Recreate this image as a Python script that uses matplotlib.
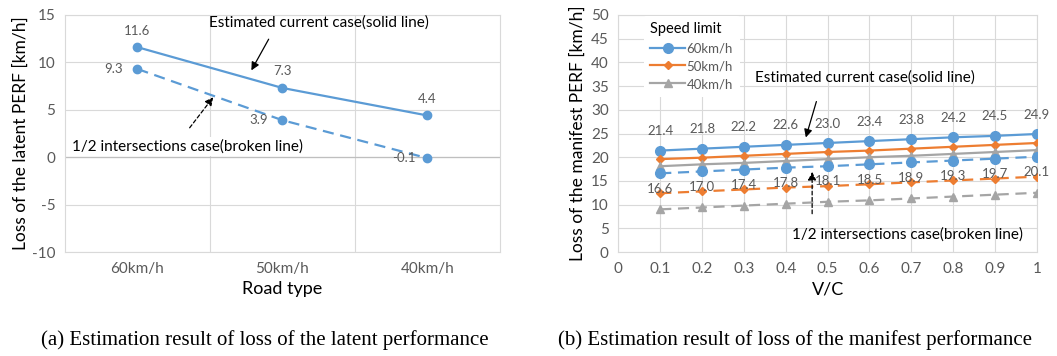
import matplotlib
matplotlib.use("Agg")
import matplotlib.pyplot as plt
import numpy as np

plt.rcParams['font.family'] = ['Lato', 'DejaVu Sans']
plt.rcParams['axes.unicode_minus'] = False

# (a) latent performance loss by road type
road_types = ['60km/h', '50km/h', '40km/h']
latent_current = [11.6, 7.3, 4.4]
latent_half = [9.3, 3.9, -0.1]

# (b) manifest performance loss vs V/C
vc = [0.1, 0.2, 0.3, 0.4, 0.5, 0.6, 0.7, 0.8, 0.9, 1.0]
m60_current = [21.4, 21.8, 22.2, 22.6, 23.0, 23.4, 23.8, 24.2, 24.5, 24.9]
m60_half = [16.6, 17.0, 17.4, 17.8, 18.1, 18.5, 18.9, 19.3, 19.7, 20.1]
m50_current = [19.6, 19.9, 20.3, 20.7, 21.1, 21.4, 21.8, 22.2, 22.6, 23.0]
m50_half = [12.4, 12.8, 13.2, 13.6, 13.9, 14.3, 14.7, 15.1, 15.5, 15.9]
m40_current = [18.1, 18.5, 18.8, 19.2, 19.6, 20.0, 20.3, 20.7, 21.1, 21.5]
m40_half = [9.0, 9.4, 9.8, 10.2, 10.6, 10.9, 11.3, 11.7, 12.1, 12.5]

BLUE = '#5B9BD5'
ORANGE = '#ED7D31'
GRAY = '#A5A5A5'
GRID = '#D9D9D9'
TXT = '#595959'

fig = plt.figure(figsize=(10.57, 3.56), dpi=100)
ax1 = fig.add_axes([0.0615, 0.292, 0.4115, 0.666])
ax2 = fig.add_axes([0.585, 0.292, 0.396, 0.666])

for ax in (ax1, ax2):
    for s in ax.spines.values():
        s.set_color(GRID)
        s.set_linewidth(0.8)
    ax.tick_params(length=0, colors=TXT, labelsize=11, pad=7)
    ax.set_axisbelow(True)

# ---- left chart
x = np.arange(len(road_types))
ax1.set_xlim(-0.5, 2.5)
ax1.set_ylim(-10, 15)
ax1.set_yticks(range(-10, 16, 5))
ax1.set_xticks(x)
ax1.set_xticklabels(road_types)
ax1.set_xticks([0.5, 1.5], minor=True)
ax1.tick_params(which='minor', length=0)
ax1.grid(axis='y', color=GRID, lw=0.8)
ax1.grid(axis='x', which='minor', color=GRID, lw=0.8)
ax1.axhline(0, color='#BFBFBF', lw=0.9, zorder=1)

ax1.plot(x, latent_current, color=BLUE, lw=1.6, marker='o', ms=6, zorder=3)
ax1.plot(x, latent_half, color=BLUE, lw=1.6, ls=(0, (5, 3)), marker='o', ms=6, zorder=3)
for xi, v in zip(x, latent_current):
    ax1.annotate(f'{v:.1f}', (xi, v), xytext=(0, 12), textcoords='offset points',
                 ha='center', va='center', fontsize=9.5, color=TXT)
for xi, v in zip(x, latent_half):
    ax1.annotate(f'{v:.1f}', (xi, v), xytext=(-17, 0), textcoords='offset points',
                 ha='center', va='center', fontsize=9.5, color=TXT)

ax1.set_xlabel('Road type', fontsize=13, labelpad=4)
ax1.set_ylabel('Loss of the latent PERF [km/h]', fontsize=12.5, labelpad=2)

ax1.text(1.25, 14.2, 'Estimated current case(solid line)', ha='center', va='center',
         fontsize=11, color='black')
ax1.annotate('', xy=(0.776, 8.9), xytext=(0.914, 12.7),
             arrowprops=dict(arrowstyle='-|>', color='black', lw=0.9,
                             mutation_scale=12))
ax1.text(0.348, 1.1, '1/2 intersections case(broken line)', ha='center', va='center',
         fontsize=11, color='black', zorder=4,
         bbox=dict(facecolor='white', edgecolor='none', pad=1.5))
ax1.annotate('', xy=(0.534, 6.56), xytext=(0.348, 2.87),
             arrowprops=dict(arrowstyle='-|>', color='black', lw=0.9, ls=(0, (3, 2)),
                             mutation_scale=12))

# ---- right chart
ax2.set_xlim(0, 1)
ax2.set_ylim(0, 50)
ax2.set_xticks(np.arange(0, 1.01, 0.1))
ax2.set_xticklabels(['0'] + [f'{t:.1f}' for t in np.arange(0.1, 0.95, 0.1)] + ['1'])
ax2.set_yticks(range(0, 51, 5))
ax2.grid(True, color=GRID, lw=0.8)

dash = (0, (5, 3))
l60, = ax2.plot(vc, m60_current, color=BLUE, lw=1.6, marker='o', ms=7, zorder=3)
l50, = ax2.plot(vc, m50_current, color=ORANGE, lw=1.6, marker='D', ms=4, zorder=3)
l40, = ax2.plot(vc, m40_current, color=GRAY, lw=1.6, marker='^', ms=6, zorder=3)
ax2.plot(vc, m60_half, color=BLUE, lw=1.6, ls=dash, marker='o', ms=7, zorder=3)
ax2.plot(vc, m50_half, color=ORANGE, lw=1.6, ls=dash, marker='D', ms=4, zorder=3)
ax2.plot(vc, m40_half, color=GRAY, lw=1.6, ls=dash, marker='^', ms=6, zorder=3)

for xi, v in zip(vc, m60_current):
    ax2.annotate(f'{v:.1f}', (xi, v), xytext=(0, 14), textcoords='offset points',
                 ha='center', va='center', fontsize=9.5, color=TXT)
for xi, v in zip(vc, m60_half):
    ax2.annotate(f'{v:.1f}', (xi, v), xytext=(0, -11), textcoords='offset points',
                 ha='center', va='center', fontsize=9.5, color=TXT)

leg = ax2.legend([l60, l50, l40], ['60km/h', '50km/h', '40km/h'], title='Speed limit',
                 loc='upper left', bbox_to_anchor=(0.045, 1.025), frameon=True,
                 fontsize=9.5, title_fontsize=10.5, labelcolor=TXT, handlelength=2.6,
                 handletextpad=0.15, labelspacing=0.45, borderpad=0.5)
leg.get_frame().set_edgecolor('none')
leg.get_frame().set_facecolor('white')
leg.get_frame().set_alpha(1)
leg._legend_box.align = 'left'

ax2.set_xlabel('V/C', fontsize=13, labelpad=4)
ax2.set_ylabel('Loss of the manifest PERF [km/h]', fontsize=12.5, labelpad=4)

ax2.text(0.59, 36.7, 'Estimated current case(solid line)', ha='center', va='center',
         fontsize=11, color='black')
ax2.annotate('', xy=(0.446, 23.6), xytext=(0.475, 32.3),
             arrowprops=dict(arrowstyle='-|>', color='black', lw=0.9,
                             mutation_scale=12))
ax2.text(0.69, 3.6, '1/2 intersections case(broken line)', ha='center', va='center',
         fontsize=11, color='black')
ax2.annotate('', xy=(0.463, 17.5), xytext=(0.463, 7.5),
             arrowprops=dict(arrowstyle='-|>', color='black', lw=0.9, ls=(0, (3, 2)),
                             mutation_scale=12))

# captions
fig.text(0.2505, 0.045, '(a) Estimation result of loss of the latent performance',
         ha='center', va='center', fontsize=15, family='Liberation Serif')
fig.text(0.752, 0.045, '(b) Estimation result of loss of the manifest performance',
         ha='center', va='center', fontsize=15, family='Liberation Serif')

fig.savefig('out.png', dpi=100)
